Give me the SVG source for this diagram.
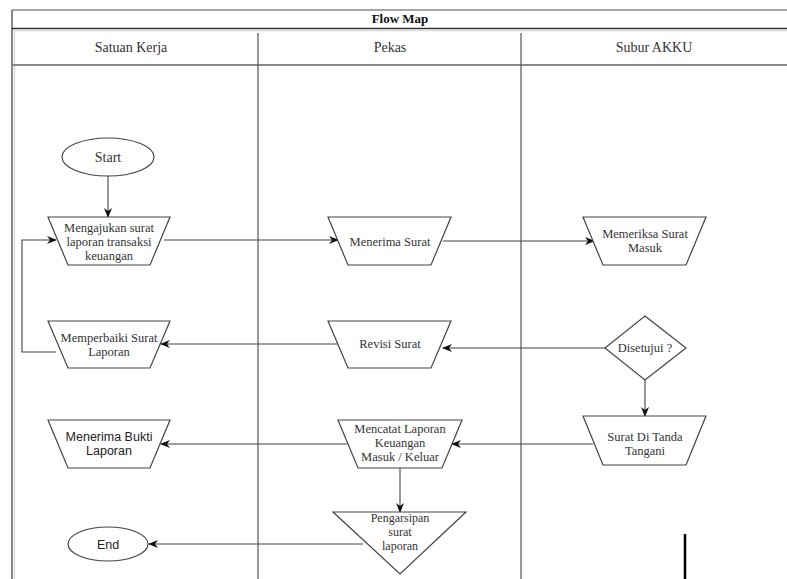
<svg xmlns="http://www.w3.org/2000/svg" width="787" height="579" viewBox="0 0 787 579">
<defs>
<marker id="ah" markerWidth="10" markerHeight="8" refX="9" refY="4" orient="auto" markerUnits="userSpaceOnUse">
<path d="M0,0 L10,4 L0,8 L3,4 Z" fill="#111"/>
</marker>
</defs>
<style>
.shape{fill:#fff;stroke:#444;stroke-width:1.2}
.t{font-family:"Liberation Serif","Times New Roman",serif;font-size:12.5px;fill:#333;text-anchor:middle}
.s{font-family:"Liberation Sans",Arial,sans-serif;font-size:12.5px;fill:#222;text-anchor:middle}
.h{font-family:"Liberation Serif","Times New Roman",serif;font-size:14px;fill:#333;text-anchor:middle}
.c{fill:none;stroke:#444;stroke-width:1.1}
.ca{fill:none;stroke:#444;stroke-width:1.1;marker-end:url(#ah)}
</style>
<rect width="787" height="579" fill="#fff"/>
<g id="frame">
<line x1="12" y1="10" x2="787" y2="10" stroke="#888" stroke-width="1.5"/>
<line x1="12" y1="10" x2="12" y2="579" stroke="#888" stroke-width="2"/>
<line x1="14.5" y1="30" x2="14.5" y2="579" stroke="#ddd" stroke-width="1.5"/>
<line x1="12" y1="28.5" x2="787" y2="28.5" stroke="#333" stroke-width="1.5"/>
<line x1="14" y1="30.5" x2="787" y2="30.5" stroke="#ddd" stroke-width="1.5"/>
<line x1="12" y1="65" x2="787" y2="65" stroke="#888" stroke-width="2"/>
<line x1="258" y1="33" x2="258" y2="579" stroke="#555" stroke-width="1.2"/>
<line x1="521" y1="33" x2="521" y2="579" stroke="#555" stroke-width="1.2"/>
<text x="400" y="23" class="t" style="font-weight:bold;font-size:13px;fill:#111">Flow Map</text>
<text x="131" y="52" class="h">Satuan Kerja</text>
<text x="390" y="52" class="h">Pekas</text>
<text x="654" y="52" class="h">Subur AKKU</text>
</g>
<g id="connectors">
<line class="ca" x1="108" y1="176" x2="108" y2="217"/>
<polyline class="ca" points="56,352 22,352 22,240 56,240"/>
<line class="ca" x1="164" y1="240" x2="338" y2="240"/>
<line class="ca" x1="443" y1="241" x2="594" y2="241"/>
<line class="ca" x1="605" y1="348" x2="443" y2="348"/>
<line class="ca" x1="337" y1="344" x2="161" y2="344"/>
<line class="ca" x1="645" y1="380" x2="645" y2="416"/>
<line class="ca" x1="593" y1="444" x2="452" y2="444"/>
<line class="ca" x1="347" y1="444" x2="161" y2="444"/>
<line class="ca" x1="400" y1="468" x2="400" y2="512"/>
<line class="ca" x1="363" y1="544" x2="149" y2="544"/>
</g>
<g id="start">
<ellipse class="shape" cx="108" cy="157" rx="46" ry="19"/>
<text x="108" y="162" class="t" style="font-size:14px">Start</text>
</g>
<g id="mengajukan">
<polygon class="shape" points="48,217 170,217 150,265 68,265"/>
<text x="109" y="232" class="t">Mengajukan surat</text>
<text x="109" y="246" class="t">laporan transaksi</text>
<text x="109" y="260" class="t">keuangan</text>
</g>
<g id="menerima-surat">
<polygon class="shape" points="328,217 451,217 431,265 348,265"/>
<text x="390" y="246" class="t">Menerima Surat</text>
</g>
<g id="memeriksa">
<polygon class="shape" points="583,217 706,217 686,265 603,265"/>
<text x="645" y="238" class="t">Memeriksa Surat</text>
<text x="645" y="252" class="t">Masuk</text>
</g>
<g id="memperbaiki">
<polygon class="shape" points="48,321 170,321 150,368 68,368"/>
<text x="109" y="342" class="t">Memperbaiki Surat</text>
<text x="109" y="356" class="t">Laporan</text>
</g>
<g id="revisi">
<polygon class="shape" points="328,321 451,321 431,368 348,368"/>
<text x="390" y="348" class="t">Revisi Surat</text>
</g>
<g id="disetujui">
<polygon class="shape" points="645,316 686,348 645,380 605,348"/>
<text x="645" y="352" class="t">Disetujui ?</text>
</g>
<g id="menerima-bukti">
<polygon class="shape" points="48,420 170,420 150,468 68,468"/>
<text x="109" y="441" class="s">Menerima Bukti</text>
<text x="109" y="455" class="s">Laporan</text>
</g>
<g id="mencatat">
<polygon class="shape" points="338,420 462,420 442,468 358,468"/>
<text x="400" y="433" class="t">Mencatat Laporan</text>
<text x="400" y="447" class="t">Keuangan</text>
<text x="400" y="461" class="t">Masuk / Keluar</text>
</g>
<g id="tanda-tangani">
<polygon class="shape" points="583,416 706,416 686,465 603,465"/>
<text x="645" y="441" class="t">Surat Di Tanda</text>
<text x="645" y="455" class="t">Tangani</text>
</g>
<g id="pengarsipan">
<polygon class="shape" points="333,512 466,512 400,574"/>
<text x="400" y="522" class="t" style="font-size:12px">Pengarsipan</text>
<text x="400" y="536" class="t" style="font-size:12px">surat</text>
<text x="400" y="550" class="t" style="font-size:12px">laporan</text>
</g>
<g id="end">
<ellipse class="shape" cx="108" cy="544" rx="40" ry="17"/>
<text x="108" y="549" class="s">End</text>
</g>
<g id="mark">
<line x1="685" y1="534" x2="685" y2="579" stroke="#000" stroke-width="2.5"/>
</g>
</svg>
